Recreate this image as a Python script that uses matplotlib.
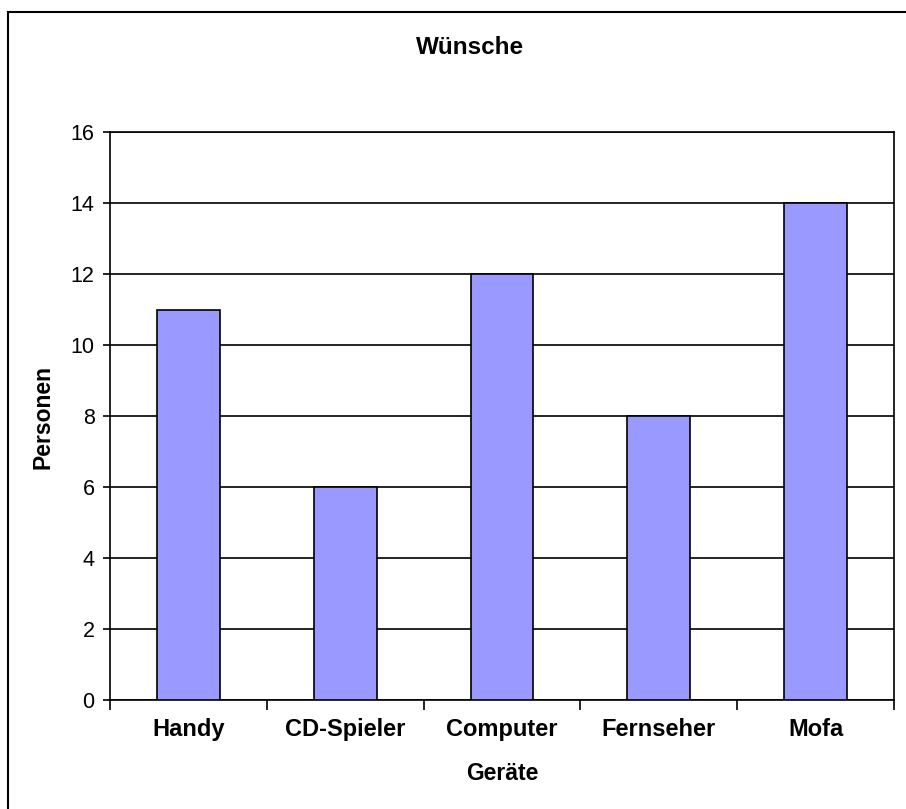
import matplotlib
matplotlib.use("Agg")
import matplotlib.pyplot as plt
from matplotlib.patches import Rectangle

# Daten
geraete = ["Handy", "CD-Spieler", "Computer", "Fernseher", "Mofa"]
personen = [11, 6, 12, 8, 14]
yticks = [0, 2, 4, 6, 8, 10, 12, 14, 16]

plt.rcParams['font.family'] = ['Liberation Sans', 'DejaVu Sans']

W, H = 906, 809
fig = plt.figure(figsize=(W / 100, H / 100), dpi=100)

# chart area border (right/bottom lie outside the picture)
fig.patches.append(Rectangle((8 / W, -0.1), 1.2, 1 - 12 / H + 0.1,
                             transform=fig.transFigure, fill=False,
                             edgecolor="black", linewidth=1.5))

ax = fig.add_axes([110 / W, 1 - 700 / H, (894 - 110) / W, (700 - 132) / H])

x = list(range(len(geraete)))
ax.bar(x, personen, width=0.4, color="#9999FF", edgecolor="black",
       linewidth=1.2, zorder=3)

ax.set_xlim(-0.5, len(geraete) - 0.5)
ax.set_ylim(0, 16)
ax.set_yticks(yticks)
ax.set_yticklabels([str(v) for v in yticks], fontsize=15.5)
ax.yaxis.grid(True, color="black", linewidth=1.2, zorder=0)

ax.set_xticks(x)
ax.set_xticklabels(geraete, fontsize=17, fontweight="bold")
ax.tick_params(axis="x", length=0, pad=13)
ax.set_xticks([i - 0.5 for i in range(len(geraete) + 1)], minor=True)
ax.tick_params(axis="x", which="minor", length=7, width=1.2, direction="out")
ax.tick_params(axis="y", length=5, width=1.2, direction="out", pad=6)

for s in ax.spines.values():
    s.set_linewidth(1.2)
    s.set_color("black")

fig.text(502 / W, 1 - 774 / H, "Geräte", fontsize=16.5, fontweight="bold",
         ha="center", va="center")
fig.text(43 / W, 1 - 417 / H, "Personen", fontsize=16.5, fontweight="bold",
         ha="center", va="center", rotation=90)
fig.text(470 / W, 1 - 48 / H, "Wünsche", fontsize=17.5, fontweight="bold",
         ha="center", va="center")

fig.savefig("out.png", dpi=100)
